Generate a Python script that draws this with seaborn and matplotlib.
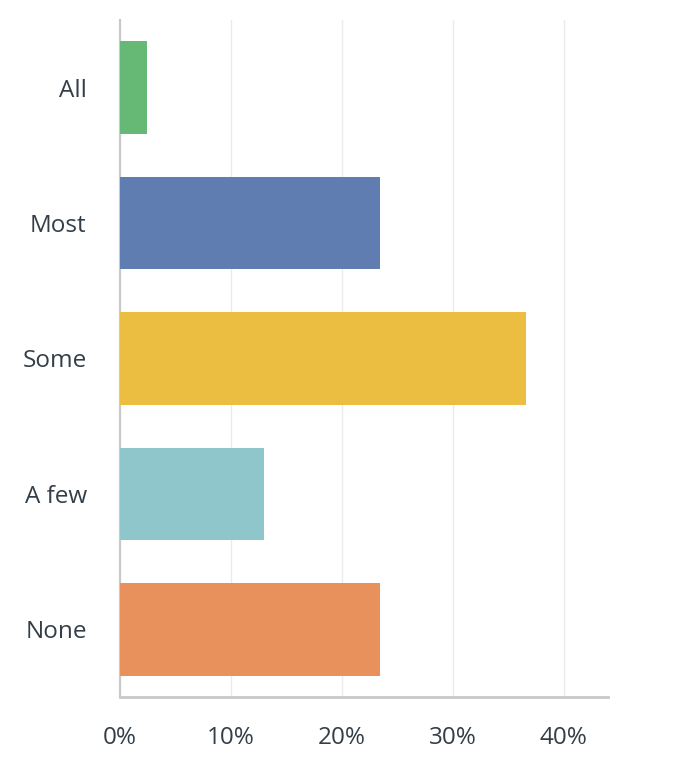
import matplotlib
matplotlib.use("Agg")
import matplotlib.pyplot as plt
import seaborn as sns
import pandas as pd
from matplotlib.ticker import FuncFormatter

# answer options and share of respondents (%)
categories = ["All", "Most", "Some", "A few", "None"]
percents = [2.4, 23.4, 36.6, 13.0, 23.4]
bar_colors = ["#66b875", "#5f7db0", "#ebbe41", "#8ec6cb", "#e8915d"]
x_ticks = [0, 10, 20, 30, 40]

sns.set_theme(style="white")
plt.rcParams["font.family"] = ["Open Sans", "DejaVu Sans"]

df = pd.DataFrame({"answer": categories, "percent": percents})

fig = plt.figure(figsize=(6.78, 7.66), dpi=100)
ax = fig.add_axes([0.177, 0.090, 0.720, 0.884])

sns.barplot(data=df, x="percent", y="answer", hue="answer", palette=bar_colors,
            order=categories, width=0.685, saturation=1, linewidth=0,
            legend=False, ax=ax, zorder=3)

ax.set_xlim(0, 44.0)
ax.set_ylim(4.5, -0.5)
ax.set_xticks(x_ticks)
ax.xaxis.set_major_formatter(FuncFormatter(lambda v, p: f"{v:.0f}%"))
ax.grid(axis="x", color="#ebebeb", linewidth=1.0, zorder=0)
ax.set_xlabel("")
ax.set_ylabel("")

for s in ["top", "right"]:
    ax.spines[s].set_visible(False)
ax.spines["left"].set_color("#c8c8c8")
ax.spines["left"].set_linewidth(1.5)
ax.spines["bottom"].set_color("#c8c8c8")
ax.spines["bottom"].set_linewidth(2)

ax.tick_params(axis="both", length=0, labelsize=17.5, labelcolor="#333e48")
ax.tick_params(axis="x", pad=21)
ax.tick_params(axis="y", pad=24)

fig.savefig("out.png", dpi=100)
